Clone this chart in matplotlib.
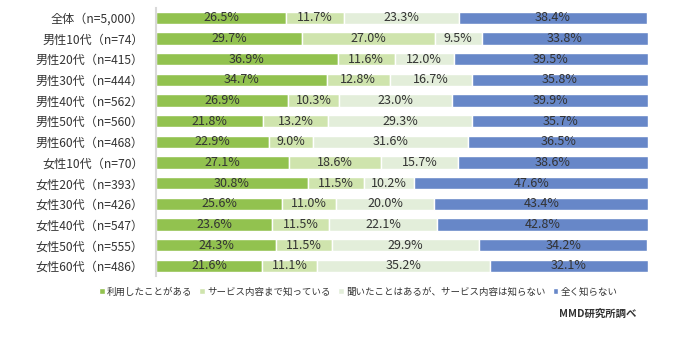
import matplotlib.pyplot as plt
import numpy as np

plt.rcParams['font.family'] = ['Noto Sans CJK JP', 'DejaVu Sans']

# survey groups, top to bottom
groups = ['全体（n=5,000）', '男性10代（n=74）', '男性20代（n=415）', '男性30代（n=444）',
          '男性40代（n=562）', '男性50代（n=560）', '男性60代（n=468）', '女性10代（n=70）',
          '女性20代（n=393）', '女性30代（n=426）', '女性40代（n=547）', '女性50代（n=555）',
          '女性60代（n=486）']

used = [26.5, 29.7, 36.9, 34.7, 26.9, 21.8, 22.9, 27.1, 30.8, 25.6, 23.6, 24.3, 21.6]
know_detail = [11.7, 27.0, 11.6, 12.8, 10.3, 13.2, 9.0, 18.6, 11.5, 11.0, 11.5, 11.5, 11.1]
heard_only = [23.3, 9.5, 12.0, 16.7, 23.0, 29.3, 31.6, 15.7, 10.2, 20.0, 22.1, 29.9, 35.2]
unknown = [38.4, 33.8, 39.5, 35.8, 39.9, 35.7, 36.5, 38.6, 47.6, 43.4, 42.8, 34.2, 32.1]

series = [used, know_detail, heard_only, unknown]
names = ['利用したことがある', 'サービス内容まで知っている',
         '聞いたことはあるが、サービス内容は知らない', '全く知らない']
colors = ['#92C24F', '#CFE4AD', '#E3EEDA', '#6787C8']

fig = plt.figure(figsize=(6.82, 3.44), dpi=100)
ax = fig.add_axes([0.229, 0.197, 0.721, 0.781])

y = np.arange(len(groups))
left = np.zeros(len(groups))
for vals, name, c in zip(series, names, colors):
    vals = np.array(vals)
    ax.barh(y, vals, left=left, height=0.6, color=c, edgecolor='white',
            linewidth=1, label=name)
    for yi, l, v in zip(y, left, vals):
        ax.text(l + v / 2, yi, f'{v:.1f}%', ha='center', va='center',
                fontsize=9, color='#333333')
    left += vals

ax.set_ylim(len(groups) - 0.5, -0.5)
ax.set_xlim(0, 100)
ax.set_yticks(y)
ax.set_yticklabels(groups, fontsize=8.7, color='#333333')
ax.set_xticks([])
ax.tick_params(axis='y', length=0, pad=9)
for s in ['top', 'right', 'bottom']:
    ax.spines[s].set_visible(False)
ax.spines['left'].set_color('#D9D9D9')
ax.spines['left'].set_linewidth(1.5)

fig.legend(loc='center', bbox_to_anchor=(0.525, 0.152), ncol=4, frameon=False,
           fontsize=6.8, handlelength=0.6, handleheight=0.6, handletextpad=0.2,
           columnspacing=0.8, labelcolor='#333333')
fig.text(0.933, 0.087, 'MMD研究所調べ', ha='right', va='center', fontsize=7.5,
         fontweight='bold', color='#333333')

fig.savefig('out.png', dpi=100)
